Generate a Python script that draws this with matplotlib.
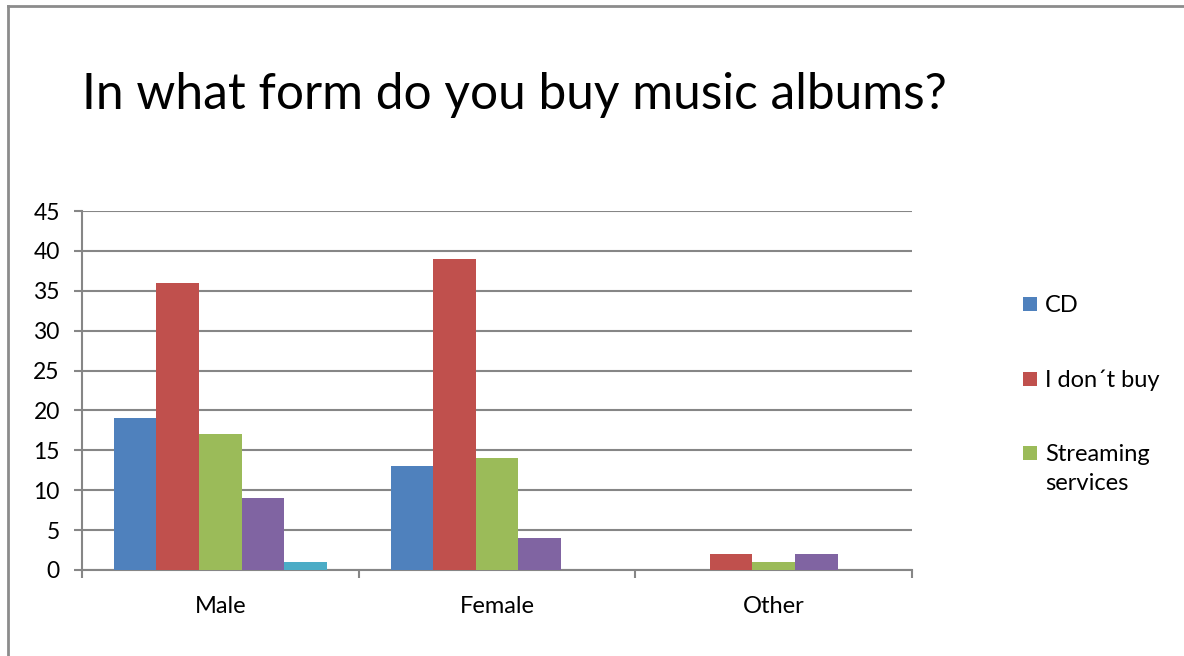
import matplotlib
matplotlib.use("Agg")
import matplotlib.pyplot as plt
from matplotlib.lines import Line2D
from matplotlib.patches import Rectangle
import numpy as np

plt.rcParams["font.family"] = ["Lato", "DejaVu Sans"]

categories = ["Male", "Female", "Other"]
series_names = ["CD", "I don\u00b4t buy", "Streaming\nservices", "Series 4", "Series 5"]
series_values = [
    [19, 13, 0],
    [36, 39, 2],
    [17, 14, 1],
    [9, 4, 2],
    [1, 0, 0],
]
series_colors = ["#4F81BD", "#C0504D", "#9BBB59", "#8064A2", "#4BACC6"]
y_ticks = [0, 5, 10, 15, 20, 25, 30, 35, 40, 45]

W, H = 1184, 656
fig = plt.figure(figsize=(W / 100, H / 100), dpi=100)
ax = fig.add_axes([82 / W, 1 - 570 / H, (912 - 82) / W, (570 - 211) / H])

x = np.arange(len(categories))
n = len(series_values)
bar_w = 1 / (n + 1.5)
for i, (vals, col, name) in enumerate(zip(series_values, series_colors, series_names)):
    ax.bar(x + (i - (n - 1) / 2) * bar_w, vals, bar_w, color=col,
           label=name, zorder=3, linewidth=0)

ax.set_xlim(-0.5, len(categories) - 0.5)
ax.set_ylim(0, 45)
ax.set_yticks(y_ticks)
ax.tick_params(axis="y", length=6, width=1.5, color="#868686", labelsize=16.5, pad=10)
ax.yaxis.grid(True, color="#868686", linewidth=1.5, zorder=0)

# group boundaries get the tick marks, group names sit between them
ax.set_xticks(np.arange(len(categories) + 1) - 0.5)
ax.set_xticklabels([])
ax.tick_params(axis="x", which="major", length=6, width=1.5, color="#868686")
ax.set_xticks(x, minor=True)
ax.set_xticklabels(categories, minor=True)
ax.tick_params(axis="x", which="minor", length=0, labelsize=17, pad=19)

for side in ["top", "right"]:
    ax.spines[side].set_visible(False)
for side in ["left", "bottom"]:
    ax.spines[side].set_color("#868686")
    ax.spines[side].set_linewidth(1.5)
ax.set_axisbelow(True)

fig.text(82 / W, 1 - 95 / H, "In what form do you buy music albums?",
         fontsize=35.7, va="center", ha="left")

# legend: only the first three series are listed, key aligned with first text line
legend_y = [304, 379, 453]
for name, col, yc in zip(series_names[:3], series_colors[:3], legend_y):
    fig.add_artist(Rectangle((1023 / W, 1 - (yc + 7) / H), 14 / W, 14 / H,
                             transform=fig.transFigure, color=col, linewidth=0))
    fig.text(1045 / W, 1 - (yc - 9) / H, name, fontsize=17, va="top",
             ha="left", linespacing=1.5)

# outer frame of the chart area (top and left edges)
fig.add_artist(Line2D([8 / W, 8 / W], [0, 1 - 6 / H], color="#8c8c8c", linewidth=2))
fig.add_artist(Line2D([8 / W, 1], [1 - 6 / H, 1 - 6 / H], color="#8c8c8c", linewidth=2))

fig.savefig("out.png", dpi=100, facecolor="white")
